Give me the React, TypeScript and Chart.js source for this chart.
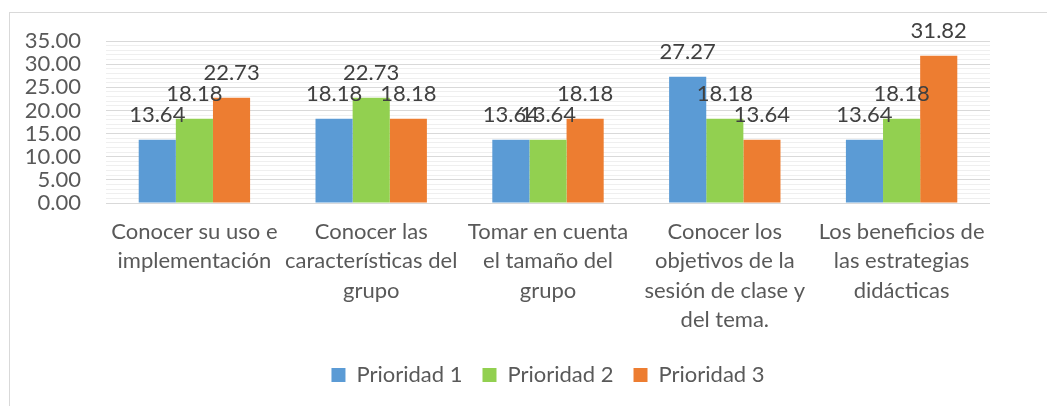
import React, { useEffect, useRef } from "react";
import { Chart, registerables } from "chart.js";

Chart.register(...registerables);

const categories: string[][] = [
  ["Conocer su uso e", "implementación"],
  ["Conocer las", "características del", "grupo"],
  ["Tomar en cuenta", "el tamaño del", "grupo"],
  ["Conocer los", "objetivos de la", "sesión de clase y", "del tema."],
  ["Los beneficios de", "las estrategias", "didácticas"],
];
const seriesNames = ["Prioridad 1", "Prioridad 2", "Prioridad 3"];
const prioridad1 = [13.64, 18.18, 13.64, 27.27, 13.64];
const prioridad2 = [18.18, 22.73, 13.64, 18.18, 18.18];
const prioridad3 = [22.73, 18.18, 18.18, 13.64, 31.82];
const colors = ["#5B9BD5", "#92D050", "#ED7D31"];
const yMin = 0;
const yMax = 35;

const FONT = "Lato, 'Open Sans', sans-serif";

const dataLabels = {
  id: "dataLabels",
  afterDatasetsDraw(chart: any) {
    const ctx = chart.ctx;
    ctx.save();
    ctx.font = `22px ${FONT}`;
    ctx.fillStyle = "#404040";
    ctx.textAlign = "center";
    ctx.textBaseline = "alphabetic";
    chart.data.datasets.forEach((ds: any, i: number) => {
      const meta = chart.getDatasetMeta(i);
      meta.data.forEach((bar: any, j: number) => {
        ctx.fillText(Number(ds.data[j]).toFixed(2), bar.x, bar.y - 18);
      });
    });
    ctx.restore();
  },
};

export default function App() {
  const ref = useRef<HTMLCanvasElement>(null);
  useEffect(() => {
    if (!ref.current) return;
    const chart = new Chart(ref.current, {
      type: "bar",
      data: {
        labels: categories,
        datasets: [prioridad1, prioridad2, prioridad3].map((d, i) => ({
          label: seriesNames[i],
          data: d,
          backgroundColor: colors[i],
          borderWidth: 0,
          barPercentage: 1,
          categoryPercentage: 0.63,
        })),
      },
      options: {
        animation: false,
        responsive: false,
        layout: { padding: { left: 0, right: 57, top: 41, bottom: 25 } },
        plugins: {
          tooltip: { enabled: false },
          legend: {
            position: "bottom",
            fullSize: false,
            labels: {
              boxWidth: 14,
              boxHeight: 14,
              padding: 20,
              color: "#595959",
              font: { family: FONT, size: 22 },
            },
          },
        },
        scales: {
          x: {
            grid: { display: false, drawTicks: false },
            border: { display: false },
            ticks: {
              autoSkip: false,
              maxRotation: 0,
              padding: 14,
              color: "#595959",
              font: { family: FONT, size: 22, lineHeight: 1.34 },
            },
            afterFit: (s: any) => {
              s.height = 141;
            },
          },
          y: {
            min: yMin,
            max: yMax,
            grid: {
              drawTicks: false,
              color: (c: any) => (c.tick && c.tick.value % 5 === 0 ? "#d9d9d9" : "#efefef"),
            },
            border: { display: false },
            ticks: {
              stepSize: 1,
              autoSkip: false,
              padding: 25,
              color: "#595959",
              font: { family: FONT, size: 22 },
              callback: (v: any) => (Number(v) % 5 === 0 ? Number(v).toFixed(2) : ""),
            },
            afterFit: (s: any) => {
              s.width = 106;
            },
          },
        },
      },
      plugins: [dataLabels],
    });
    return () => chart.destroy();
  }, []);
  return (
    <div style={{ position: "absolute", left: 0, top: 0, width: 1047, height: 406, overflow: "hidden", background: "#fff" }}>
      <div style={{ position: "absolute", left: 9, top: 12, width: 1100, height: 500, border: "1px solid #d9d9d9" }} />
      <canvas ref={ref} width={1047} height={421} style={{ position: "absolute", left: 0, top: 0 }} />
    </div>
  );
}
